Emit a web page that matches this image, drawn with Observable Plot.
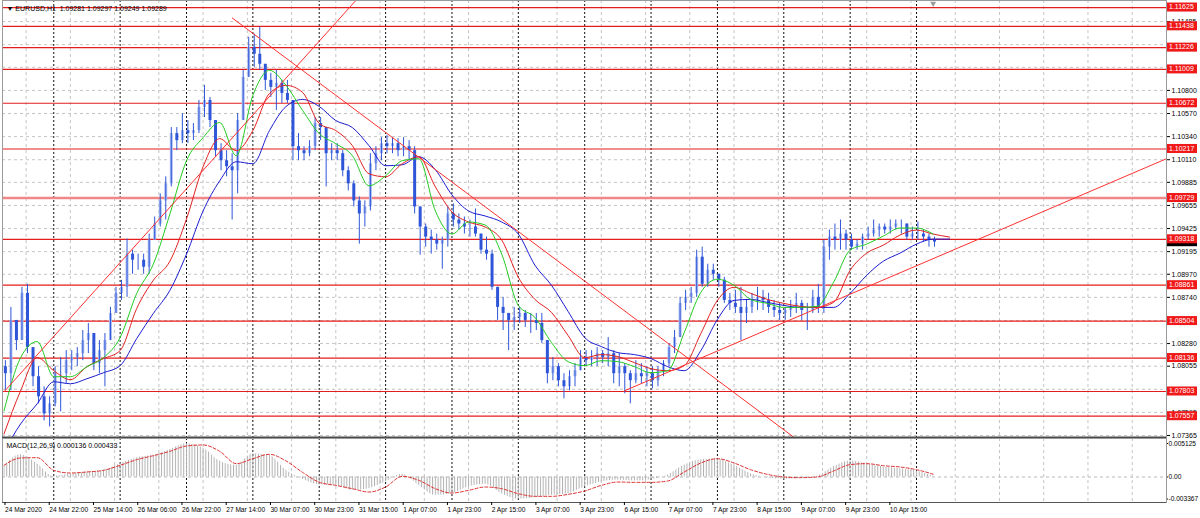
<!DOCTYPE html>
<html><head><meta charset="utf-8">
<script src="https://cdn.jsdelivr.net/npm/d3@7"></script>
<script src="https://cdn.jsdelivr.net/npm/@observablehq/plot@0.6"></script>
<style>
html,body{margin:0;padding:0;background:#fff;width:1200px;height:518px;overflow:hidden}
#wrap{position:relative;width:1200px;height:518px;background:#fff}
#wrap svg{position:absolute;left:0;display:block}
</style></head><body><div id="wrap"></div>
<script>
// ---------- text ----------
const symbolHeader = "\u25BC EURUSD,H1  1.09281 1.09297 1.09249 1.09289";
const macdHeader = "MACD(12,26,9) 0.000136 0.000433";

// ---------- candles (2-hour steps, bar index = 2k) ----------
const firstOpen = 1.0805;
const candleHigh = [
1.0811,1.0864,1.0851,1.0884,1.0887,1.0824,1.0805,1.0785,1.0775,1.0805,
1.0814,1.0821,1.0821,1.0824,1.0841,1.0848,1.0834,1.0831,1.0838,1.0864,
1.0884,1.0891,1.0932,1.0921,1.0917,1.0917,1.0937,1.0954,1.0977,1.0994,
1.1043,1.1043,1.1057,1.1050,1.1047,1.1070,1.1085,1.1073,1.1050,1.1027,
1.1020,1.1017,1.1057,1.1100,1.1133,1.1136,1.1143,1.1106,1.1097,1.1100,
1.1090,1.1090,1.1070,1.1037,1.1024,1.1030,1.1053,1.1053,1.1040,1.1027,
1.1027,1.1020,1.1004,1.0990,1.0974,1.0970,1.1017,1.1024,1.1033,1.1035,
1.1033,1.1032,1.1033,1.1030,1.1024,1.0964,1.0947,1.0941,1.0937,1.0934,
1.0964,1.0967,1.0957,1.0954,1.0951,1.0962,1.0937,1.0934,1.0921,1.0884,
1.0874,1.0858,1.0864,1.0864,1.0861,1.0858,1.0858,1.0858,1.0831,1.0814,
1.0808,1.0798,1.0801,1.0808,1.0821,1.0821,1.0821,1.0824,1.0821,1.0834,
1.0821,1.0818,1.0808,1.0801,1.0811,1.0808,1.0805,1.0805,1.0805,1.0811,
1.0828,1.0841,1.0874,1.0881,1.0884,1.0921,1.0924,1.0907,1.0907,1.0897,
1.0894,1.0878,1.0881,1.0884,1.0871,1.0878,1.0884,1.0881,1.0878,1.0871,
1.0868,1.0864,1.0871,1.0878,1.0871,1.0868,1.0881,1.0887,1.0931,1.0941,
1.0947,1.0951,1.0941,1.0937,1.0931,1.0937,1.0944,1.0951,1.0947,1.0947,
1.0951,1.0951,1.0951,1.0947,1.0944,1.0949,1.0941,1.0937,1.0934];
const candleLow = [
1.0781,1.0781,1.0821,1.0831,1.0818,1.0785,1.0768,1.0751,1.0745,1.0765,
1.0760,1.0788,1.0801,1.0805,1.0811,1.0818,1.0801,1.0798,1.0785,1.0831,
1.0858,1.0871,1.0874,1.0897,1.0901,1.0897,1.0897,1.0931,1.0944,1.0951,
1.0984,1.1020,1.1027,1.1027,1.1030,1.1037,1.1053,1.1043,1.1014,1.1000,
1.0994,1.0951,1.0977,1.1050,1.1093,1.1103,1.1100,1.1080,1.1073,1.1060,
1.1067,1.1067,1.1010,1.1010,1.1010,1.1014,1.1020,1.1030,1.0984,1.1010,
1.1010,1.0994,1.0980,1.0964,1.0927,1.0944,1.0960,1.1000,1.1010,1.1017,
1.1017,1.1014,1.1014,1.1010,1.0957,1.0916,1.0924,1.0917,1.0921,1.0902,
1.0924,1.0944,1.0941,1.0937,1.0934,1.0934,1.0917,1.0911,1.0881,1.0851,
1.0841,1.0821,1.0841,1.0848,1.0844,1.0838,1.0841,1.0828,1.0788,1.0791,
1.0785,1.0773,1.0781,1.0785,1.0801,1.0805,1.0805,1.0805,1.0808,1.0805,
1.0788,1.0785,1.0778,1.0768,1.0788,1.0788,1.0785,1.0783,1.0785,1.0795,
1.0805,1.0818,1.0834,1.0861,1.0868,1.0874,1.0884,1.0884,1.0891,1.0884,
1.0868,1.0861,1.0858,1.0831,1.0848,1.0858,1.0861,1.0861,1.0858,1.0854,
1.0851,1.0851,1.0854,1.0858,1.0851,1.0841,1.0858,1.0858,1.0858,1.0911,
1.0921,1.0921,1.0921,1.0921,1.0921,1.0921,1.0931,1.0934,1.0934,1.0937,
1.0937,1.0941,1.0937,1.0931,1.0931,1.0931,1.0929,1.0924,1.0924];
const candleClose = [
1.0798,1.0851,1.0831,1.0878,1.0824,1.0795,1.0775,1.0758,1.0768,1.0798,
1.0798,1.0811,1.0814,1.0818,1.0831,1.0838,1.0808,1.0821,1.0831,1.0858,
1.0878,1.0884,1.0917,1.0911,1.0911,1.0904,1.0931,1.0947,1.0970,1.0987,
1.1037,1.1030,1.1040,1.1037,1.1040,1.1063,1.1070,1.1050,1.1020,1.1010,
1.1004,1.1000,1.1050,1.1093,1.1123,1.1116,1.1106,1.1090,1.1083,1.1087,
1.1077,1.1070,1.1024,1.1020,1.1017,1.1024,1.1047,1.1043,1.1017,1.1020,
1.1017,1.1000,1.0987,1.0970,1.0957,1.0964,1.1007,1.1017,1.1027,1.1024,
1.1027,1.1020,1.1024,1.1020,1.0964,1.0944,1.0934,1.0931,1.0927,1.0931,
1.0957,1.0951,1.0947,1.0944,1.0944,1.0937,1.0921,1.0917,1.0884,1.0864,
1.0858,1.0851,1.0854,1.0858,1.0851,1.0851,1.0848,1.0831,1.0798,1.0805,
1.0791,1.0785,1.0795,1.0801,1.0814,1.0811,1.0814,1.0818,1.0814,1.0818,
1.0798,1.0805,1.0798,1.0791,1.0798,1.0795,1.0798,1.0791,1.0801,1.0808,
1.0824,1.0834,1.0868,1.0874,1.0878,1.0914,1.0887,1.0901,1.0897,1.0891,
1.0871,1.0868,1.0864,1.0858,1.0864,1.0871,1.0874,1.0871,1.0864,1.0861,
1.0858,1.0861,1.0864,1.0868,1.0861,1.0861,1.0874,1.0864,1.0924,1.0934,
1.0931,1.0937,1.0931,1.0924,1.0927,1.0934,1.0937,1.0941,1.0944,1.0941,
1.0944,1.0947,1.0947,1.0934,1.0937,1.0937,1.0934,1.0931,1.0929];

// ---------- Alligator lines (sampled every 6 bars) ----------
const lineIdx = [0,6,12,18,24,30,36,42,48,54,60,66,72,78,84,90,96,102,108,114,120,126,132,138,144,150,156,162,168,174,180,186,192,198,204,210,216,222,228,234,240,246,252,258,264,270,276,282,288,294,300,306,312,318,324,330,336,342];
const lips = [1.0761,1.0814,1.0830,1.0795,1.0795,1.0805,1.0814,1.0834,1.0878,1.0907,
1.0957,1.1010,1.1033,1.1048,1.1015,1.1075,1.1100,1.1085,1.1060,1.1037,
1.1027,1.1015,1.0985,1.0995,1.1010,1.1012,1.0960,1.0937,1.0949,1.0946,
1.0917,1.0866,1.0854,1.0829,1.0810,1.0806,1.0811,1.0810,1.0805,1.0799,
1.0801,1.0839,1.0879,1.0892,1.0886,1.0872,1.0868,1.0864,1.0864,1.0865,
1.0889,1.0921,1.0927,1.0935,1.0943,1.0943,1.0937,null];
const teeth = [1.0738,1.0781,1.0814,1.0801,1.0792,1.0805,1.0813,1.0821,1.0863,1.0891,
1.0910,1.0952,1.1004,1.1032,1.1020,1.1040,1.1077,1.1085,1.1078,1.1047,
1.1040,1.1025,1.0997,1.0994,1.1007,1.1014,1.0984,1.0959,1.0949,1.0944,
1.0931,1.0894,1.0872,1.0859,1.0836,1.0814,1.0817,1.0815,1.0809,1.0803,
1.0801,1.0806,1.0838,1.0871,1.0884,1.0878,1.0872,1.0868,1.0865,1.0864,
1.0869,1.0901,1.0918,1.0926,1.0936,1.0941,1.0937,1.0934];
const jaw = [1.0720,1.0748,1.0768,1.0790,1.0788,1.0793,1.0799,1.0806,1.0833,1.0858,
1.0881,1.0917,1.0960,1.0990,1.1009,1.1007,1.1040,1.1064,1.1071,1.1064,
1.1050,1.1043,1.1025,1.1005,1.1006,1.1014,1.1001,1.0976,1.0960,1.0955,
1.0949,1.0937,1.0906,1.0886,1.0860,1.0834,1.0825,1.0819,1.0817,1.0813,
1.0805,1.0801,1.0821,1.0852,1.0871,1.0872,1.0869,1.0866,1.0864,1.0864,
1.0864,1.0878,1.0896,1.0910,1.0918,1.0927,1.0932,1.0932];

// ---------- levels, trend lines ----------
const levels = [1.11625,1.11438,1.11226,1.11009,1.10672,1.10217,1.09729,1.09318,1.08861,1.08504,1.08136,1.07803,1.07557];
const wideLevel = 1.09729;
const lastPrice = 1.09289;
const trendDown = [[82.6,1.1152],[286,1.0734]];
const trendSteep = [[0,1.0780],[130,1.1178]];
const trendUp = [[224.4,1.0781],[420.4,1.1012]];

// ---------- axes ----------
const priceTicks = [1.07365,1.07595,1.07825,1.08055,1.08280,1.08510,1.08740,1.08970,1.09195,1.09425,1.09655,1.09885,1.10110,1.10340,1.10570,1.10800,1.11030,1.11255,1.11485];
const priceTickLabels = [1.07365,1.07595,1.08055,1.08280,1.08740,1.08970,1.09195,1.09425,1.09655,1.09885,1.10110,1.10340,1.10570,1.10800,1.11485];
const xLabelIdx = [0,16,32,48,64,80,96,112,128,144,160,176,192,208,224,240,256,272,288,304,320];
const xLabels = ["24 Mar 2020","24 Mar 22:00","25 Mar 14:00","26 Mar 06:00","26 Mar 22:00","27 Mar 14:00","30 Mar 07:00","30 Mar 23:00","31 Mar 15:00","1 Apr 07:00","1 Apr 23:00","2 Apr 15:00","3 Apr 07:00","3 Apr 23:00","6 Apr 15:00","7 Apr 07:00","7 Apr 23:00","8 Apr 15:00","9 Apr 07:00","9 Apr 23:00","10 Apr 15:00"];
const daySep = [18,42,66,90,114,138,162,186,210,234,258,282,306,330];
const gridIdx = [8,24,40,56,72,88,104,120,136,152,168,184,200,216,232,248,264,280,296,312,328,344,360,376,392,408];

// ---------- MACD (sampled every 6 bars) ----------
const macdIdx = lineIdx.slice(0,57);
const macdHist = [0.00153,0.00342,0.00204,0.0001,0.00041,0.00071,0.00102,0.00204,0.00291,0.00332,
0.00418,0.0051,0.00444,0.00245,0.00179,0.00357,0.00332,0.00102,-0.00036,-0.0012,
-0.00128,-0.00204,-0.00179,-0.00077,0.00041,-0.00128,-0.0028,-0.00255,-0.00153,-0.00112,
-0.00255,-0.00337,-0.00316,-0.0028,-0.00255,-0.00153,-0.00077,-0.00046,-0.00061,-0.00041,
0.00026,0.00179,0.00265,0.00275,0.00179,0.00051,-0.0001,-0.00031,-0.00026,0.0001,
0.00153,0.00245,0.00204,0.00153,0.00128,0.00092,0.00014];
const macdSignal = [0.00179,0.00291,0.00296,0.00102,0.00061,0.00077,0.00102,0.00179,0.00265,0.00326,
0.00393,0.00474,0.0049,0.00393,0.00204,0.0028,0.00347,0.00245,0.0007,-0.0008,
-0.00128,-0.00179,-0.0023,-0.00153,0.0001,-0.00051,-0.00179,-0.00245,-0.00204,-0.00153,
-0.00179,-0.00255,-0.00296,-0.00296,-0.00265,-0.00214,-0.00128,-0.00077,-0.00082,-0.00082,
-0.00061,0.00077,0.00214,0.0028,0.00214,0.00112,0.00041,0,-0.0001,0,
0.00092,0.00189,0.00204,0.00173,0.00153,0.00112,0.00043];
const macdTicks = [0.005125, 0, -0.003367];
const macdTickLabels = ["0.005125", "0.00", "-0.003367"];

// ---------- build ----------
const FONT = "'Liberation Sans', Arial, Helvetica, sans-serif";
const BLUE = "#2f56d8";
const xDomain = [-0.54, 420.4];
const candles = candleClose.map((c, k) => ({t: 2 * k + 0.5, h: candleHigh[k], l: candleLow[k], o: k ? candleClose[k - 1] : firstOpen, c}));
const lineRows = lineIdx.map((t, j) => ({t, lips: lips[j], teeth: teeth[j], jaw: jaw[j]}));
const macdRows = macdIdx.map((t, j) => ({t, h: macdHist[j], s: macdSignal[j]}));
const seg = a => a.map(([t, p]) => ({t, p}));

const price = Plot.plot({
  width: 1200, height: 438,
  marginLeft: 2, marginRight: 34, marginTop: 0, marginBottom: 1,
  x: {domain: xDomain, axis: null},
  y: {domain: [1.07345, 1.11695], axis: null},
  style: {background: "transparent", fontFamily: FONT, fontSize: "7px", color: "#000", overflow: "visible"},
  marks: [
    Plot.ruleY(priceTicks, {stroke: "#c4c4c4", strokeDasharray: "3,3"}),
    Plot.ruleX(gridIdx, {stroke: "#c4c4c4", strokeDasharray: "3,3"}),
    Plot.ruleX(daySep, {stroke: "#111", strokeDasharray: "2,2"}),
    Plot.ruleY(levels.filter(v => v !== wideLevel), {stroke: "#e51c1c", strokeWidth: 1.2}),
    Plot.ruleY([wideLevel], {stroke: "#f08686", strokeWidth: 2.4}),
    Plot.ruleX(candles.filter(d => d.c >= d.o), {x: "t", y1: "o", y2: "c", stroke: "#aabcf0", strokeWidth: 3}),
    Plot.ruleX(candles.filter(d => d.c < d.o), {x: "t", y1: "o", y2: "c", stroke: BLUE, strokeWidth: 3}),
    Plot.ruleX(candles, {x: "t", y1: "l", y2: "h", stroke: BLUE, strokeWidth: 1}),
    Plot.line(lineRows, {x: "t", y: "jaw", stroke: "#1c1cd0", strokeWidth: 1, curve: "monotone-x", clip: true}),
    Plot.line(lineRows, {x: "t", y: "teeth", stroke: "#e32020", strokeWidth: 1, curve: "monotone-x", clip: true}),
    Plot.line(lineRows, {x: "t", y: "lips", stroke: "#22cc22", strokeWidth: 1, curve: "monotone-x", clip: true}),
    Plot.line(seg(trendDown), {x: "t", y: "p", stroke: "#ff3030", strokeWidth: 1, clip: true}),
    Plot.line(seg(trendSteep), {x: "t", y: "p", stroke: "#ff3030", strokeWidth: 1, clip: true}),
    Plot.line(seg(trendUp), {x: "t", y: "p", stroke: "#ff3030", strokeWidth: 1, clip: true}),
    Plot.frame({stroke: "#9a9a9a"}),
    Plot.ruleY([1.07345], {stroke: "#4a4a4a", strokeWidth: 2}),
    Plot.axisY(priceTicks, {anchor: "right", tickSize: 3, text: null, label: null}),
    Plot.axisY(priceTickLabels, {anchor: "right", tickSize: 0, tickPadding: 5, tickFormat: d => d.toFixed(5), fontSize: 7, label: null}),
    Plot.text([symbolHeader], {frameAnchor: "top-left", textAnchor: "start", lineAnchor: "middle", dx: 4, dy: 8, fontSize: 7, fill: "#000"}),
    Plot.dot([336], {x: d => d, frameAnchor: "top", dy: 3, symbol: "triangle", r: 2.2, fill: "#9a9a9a", rotate: 180})
  ]
});

const macd = Plot.plot({
  width: 1200, height: 80,
  marginLeft: 2, marginRight: 34, marginTop: 0, marginBottom: 16,
  x: {domain: xDomain, axis: null},
  y: {domain: [-0.003899, 0.005887], axis: null},
  style: {background: "transparent", fontFamily: FONT, fontSize: "7px", color: "#000", overflow: "visible"},
  marks: [
    Plot.ruleX(gridIdx, {stroke: "#c4c4c4", strokeDasharray: "3,3"}),
    Plot.ruleY([0], {stroke: "#b8b8b8", strokeDasharray: "3,3"}),
    Plot.ruleX(daySep, {stroke: "#111", strokeDasharray: "2,2"}),
    Plot.areaY(macdRows, {x: "t", y1: 0, y2: "h", fill: "#bdbdbd", curve: "monotone-x"}),
    Plot.line(macdRows, {x: "t", y: "s", stroke: "#e03030", strokeWidth: 1, strokeDasharray: "3,2", curve: "monotone-x"}),
    Plot.frame({stroke: "#9a9a9a"}),
    Plot.ruleY([-0.003899], {stroke: "#555", strokeWidth: 1}),
    Plot.axisY(macdTicks, {anchor: "right", tickSize: 1, tickPadding: 1, tickFormat: d => macdTickLabels[macdTicks.indexOf(d)], fontSize: 6.6, label: null}),
    Plot.axisX(xLabelIdx, {anchor: "bottom", tickSize: 3, tickPadding: 2, textAnchor: "start", dx: 1, tickFormat: d => xLabels[xLabelIdx.indexOf(d)], fontSize: 6.6, label: null}),
    Plot.text([macdHeader], {frameAnchor: "top-left", textAnchor: "start", lineAnchor: "middle", dx: 4, dy: 7, fontSize: 7, fill: "#000"})
  ]
});

// hatch pattern for MACD histogram (thin vertical bars, one per hour)
const ms = d3.select(macd);
const defs = ms.insert("defs", ":first-child");
const pat = defs.append("pattern").attr("id", "macdHatch").attr("patternUnits", "userSpaceOnUse")
  .attr("width", 2.765).attr("height", 6).attr("x", 3.5);
pat.append("rect").attr("x", 0).attr("y", 0).attr("width", 1).attr("height", 6).attr("fill", "#b0b0b0");
ms.selectAll('g[aria-label="area"] path').attr("fill", "url(#macdHatch)");

// right-side price tags, positioned with the plot's own y scale
const ys = price.scale("y");
const ps = d3.select(price);
const tags = ps.append("g").attr("font-family", FONT).attr("font-size", 7).attr("text-anchor", "start");
function tag(v, bg, txt) {
  const y = ys.apply(v);
  tags.append("rect").attr("x", 1167).attr("y", y - 4.5).attr("width", 30).attr("height", 9).attr("fill", bg);
  if (txt) tags.append("text").attr("x", 1169).attr("y", y).attr("dy", "0.34em").attr("fill", "#fff").text(txt);
}
tag(lastPrice, "#000", null);
levels.forEach(v => tag(v, "#f01818", v.toFixed(5)));

price.style.top = "0px";
macd.style.top = "438px";
document.getElementById("wrap").append(price, macd);
</script>
</body></html>
